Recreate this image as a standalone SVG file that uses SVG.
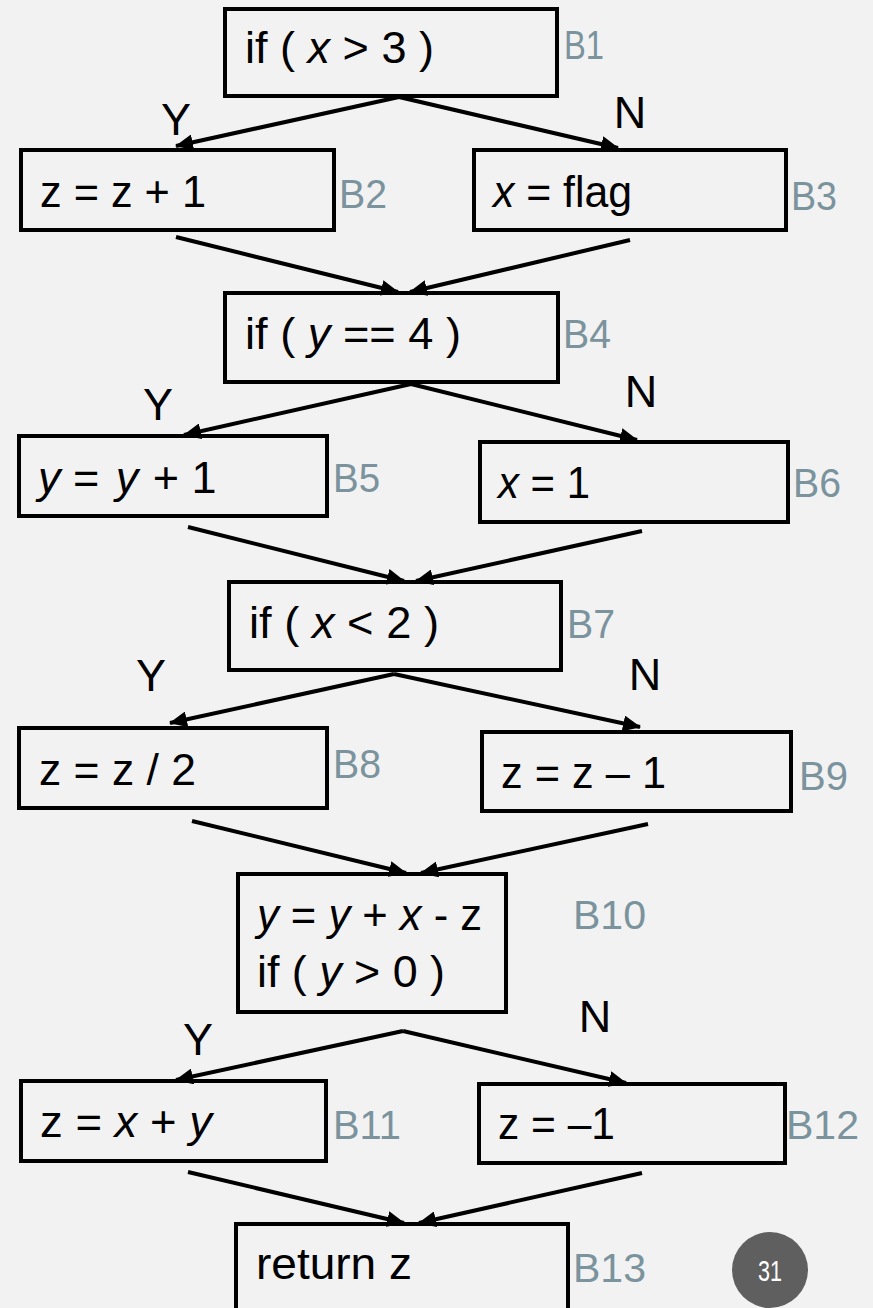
<svg xmlns="http://www.w3.org/2000/svg" width="873" height="1308" viewBox="0 0 873 1308">
<defs>
<marker id="ah" markerUnits="userSpaceOnUse" markerWidth="18" markerHeight="16" viewBox="0 0 18 16" refX="17" refY="8" orient="auto">
<path d="M0,0 L18,8 L0,16 Z" fill="#000"/>
</marker>
<style>
.box{fill:none;stroke:#000;stroke-width:4}
.t{font-family:"Liberation Sans",Arial,sans-serif;font-size:45px;fill:#000}
.i{font-style:italic}
.lb{font-family:"Liberation Sans",Arial,sans-serif;font-size:41px;fill:#7a939d}
.yn{font-family:"Liberation Sans",Arial,sans-serif;font-size:45px;fill:#000;text-anchor:middle}
.c line{stroke:#000;stroke-width:4;marker-end:url(#ah)}
</style>
</defs>
<rect width="873" height="1308" fill="#f2f2f2"/>

<g id="B1"><rect class="box" x="225" y="9" width="332" height="87"/>
<text class="t" x="245" y="63" textLength="189" lengthAdjust="spacingAndGlyphs">if ( <tspan class="i">x</tspan> &gt; 3 )</text>
<text class="lb" x="564" y="59" textLength="40" lengthAdjust="spacingAndGlyphs">B1</text></g>

<g id="B2"><rect class="box" x="21" y="150" width="313" height="80"/>
<text class="t" x="40" y="207" textLength="166" lengthAdjust="spacingAndGlyphs">z = z + 1</text>
<text class="lb" x="339" y="208" textLength="48" lengthAdjust="spacingAndGlyphs">B2</text></g>

<g id="B3"><rect class="box" x="474" y="150" width="312" height="80"/>
<text class="t" x="493" y="207" textLength="139" lengthAdjust="spacingAndGlyphs"><tspan class="i">x</tspan> = flag</text>
<text class="lb" x="791" y="210" textLength="46" lengthAdjust="spacingAndGlyphs">B3</text></g>

<g id="B4"><rect class="box" x="225" y="293" width="333" height="89"/>
<text class="t" x="245" y="349" textLength="216" lengthAdjust="spacingAndGlyphs">if ( <tspan class="i">y</tspan> == 4 )</text>
<text class="lb" x="563" y="348" textLength="48" lengthAdjust="spacingAndGlyphs">B4</text></g>

<g id="B5"><rect class="box" x="19" y="436" width="308" height="80"/>
<text class="t" x="38" y="493"><tspan class="i">y</tspan> = <tspan class="i" dx="4">y</tspan><tspan dx="2"> + 1</tspan></text>
<text class="lb" x="333" y="492" textLength="47" lengthAdjust="spacingAndGlyphs">B5</text></g>

<g id="B6"><rect class="box" x="480" y="442" width="308" height="80"/>
<text class="t" x="498" y="498" textLength="92" lengthAdjust="spacingAndGlyphs"><tspan class="i">x</tspan> = 1</text>
<text class="lb" x="793" y="497" textLength="48" lengthAdjust="spacingAndGlyphs">B6</text></g>

<g id="B7"><rect class="box" x="229" y="582" width="332" height="88"/>
<text class="t" x="249" y="638" textLength="190" lengthAdjust="spacingAndGlyphs">if ( <tspan class="i">x</tspan> &lt; 2 )</text>
<text class="lb" x="567" y="638" textLength="48" lengthAdjust="spacingAndGlyphs">B7</text></g>

<g id="B8"><rect class="box" x="19" y="728" width="308" height="80"/>
<text class="t" x="39" y="785" textLength="157" lengthAdjust="spacingAndGlyphs">z = z / 2</text>
<text class="lb" x="333" y="778" textLength="48" lengthAdjust="spacingAndGlyphs">B8</text></g>

<g id="B9"><rect class="box" x="482" y="732" width="309" height="79"/>
<text class="t" x="501" y="788" textLength="165" lengthAdjust="spacingAndGlyphs">z = z – 1</text>
<text class="lb" x="799" y="790" textLength="49" lengthAdjust="spacingAndGlyphs">B9</text></g>

<g id="B10"><rect class="box" x="238" y="874" width="268" height="138"/>
<text class="t" x="257" y="930" textLength="225" lengthAdjust="spacingAndGlyphs"><tspan class="i">y</tspan> = <tspan class="i">y</tspan> + <tspan class="i">x</tspan> - z</text>
<text class="t" x="257" y="987" textLength="188" lengthAdjust="spacingAndGlyphs">if ( <tspan class="i">y</tspan> &gt; 0 )</text>
<text class="lb" x="573" y="929" textLength="73" lengthAdjust="spacingAndGlyphs">B10</text></g>

<g id="B11"><rect class="box" x="21" y="1081" width="305" height="80"/>
<text class="t" x="40" y="1137" textLength="172" lengthAdjust="spacingAndGlyphs">z = <tspan class="i">x</tspan> + <tspan class="i">y</tspan></text>
<text class="lb" x="333" y="1139" textLength="68" lengthAdjust="spacingAndGlyphs">B11</text></g>

<g id="B12"><rect class="box" x="479" y="1084" width="306" height="79"/>
<text class="t" x="498" y="1139" textLength="117" lengthAdjust="spacingAndGlyphs">z = –1</text>
<text class="lb" x="786" y="1139" textLength="73" lengthAdjust="spacingAndGlyphs">B12</text></g>

<g id="B13"><rect class="box" x="236" y="1224" width="332" height="100"/>
<text class="t" x="256" y="1279" textLength="156" lengthAdjust="spacingAndGlyphs">return z</text>
<text class="lb" x="573" y="1282" textLength="73" lengthAdjust="spacingAndGlyphs">B13</text></g>

<g id="page"><circle cx="770" cy="1270" r="38" fill="#5f5f5f"/>
<text x="758" y="1281" font-family="'Liberation Sans',Arial,sans-serif" font-size="29" fill="#fff" textLength="24" lengthAdjust="spacingAndGlyphs">31</text></g>

<g id="connectors" class="c">
<line x1="399" y1="97" x2="176" y2="146"/>
<line x1="399" y1="97" x2="618" y2="148"/>
<line x1="176" y1="237" x2="398" y2="292"/>
<line x1="630" y1="240" x2="410" y2="292"/>
<line x1="411" y1="384" x2="184" y2="435"/>
<line x1="411" y1="384" x2="637" y2="440"/>
<line x1="188" y1="527" x2="404" y2="581"/>
<line x1="642" y1="531" x2="416" y2="581"/>
<line x1="394" y1="674" x2="170" y2="723"/>
<line x1="394" y1="674" x2="640" y2="727"/>
<line x1="192" y1="821" x2="406" y2="873"/>
<line x1="648" y1="824" x2="421" y2="873"/>
<line x1="403" y1="1031" x2="176" y2="1080"/>
<line x1="403" y1="1031" x2="626" y2="1083"/>
<line x1="188" y1="1172" x2="404" y2="1223"/>
<line x1="642" y1="1173" x2="419" y2="1223"/>
</g>

<g id="edge-labels">
<text class="yn" x="176" y="135">Y</text>
<text class="yn" x="630" y="128">N</text>
<text class="yn" x="158" y="420">Y</text>
<text class="yn" x="641" y="407">N</text>
<text class="yn" x="151" y="691">Y</text>
<text class="yn" x="645" y="690">N</text>
<text class="yn" x="198" y="1055">Y</text>
<text class="yn" x="595" y="1032">N</text>
</g>
</svg>
